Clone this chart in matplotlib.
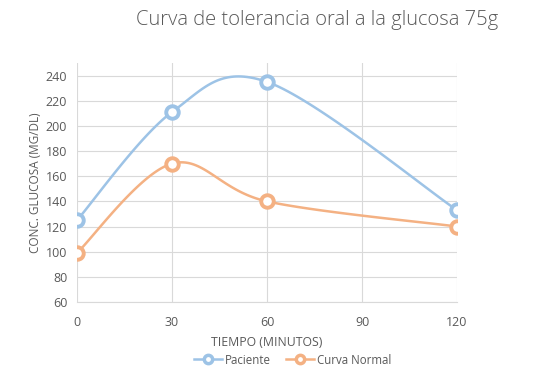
import numpy as np
import matplotlib
matplotlib.use('Agg')
import matplotlib.pyplot as plt

# data
tiempo = [0, 30, 60, 120]
paciente = [125, 211, 235, 133]
normal = [99, 170, 140, 120]

GRAY = '#595959'
GRID = '#d9d9d9'
BLUE = '#9dc3e6'
ORANGE = '#f4b183'

plt.rcParams['font.family'] = ['Open Sans', 'DejaVu Sans']


# excel-like smoothed line: cubic bezier between points
def smooth(x, y, n=40):
    x = np.array(x, float)
    y = np.array(y, float)
    xs, ys = [], []
    for i in range(len(x) - 1):
        i0 = max(i - 1, 0)
        i3 = min(i + 2, len(x) - 1)
        c1x = x[i] + (x[i + 1] - x[i0]) / 6
        c1y = y[i] + (y[i + 1] - y[i0]) / 6
        c2x = x[i + 1] - (x[i3] - x[i]) / 6
        c2y = y[i + 1] - (y[i3] - y[i]) / 6
        t = np.linspace(0, 1, n)
        bx = (1-t)**3*x[i] + 3*(1-t)**2*t*c1x + 3*(1-t)*t**2*c2x + t**3*x[i+1]
        by = (1-t)**3*y[i] + 3*(1-t)**2*t*c1y + 3*(1-t)*t**2*c2y + t**3*y[i+1]
        xs += list(bx)
        ys += list(by)
    return xs, ys


fig = plt.figure(figsize=(5.48, 3.72), dpi=100)
ax = fig.add_axes([77/548, 1 - 302/372, 380/548, 239/372])

for yy, col, lab in [(paciente, BLUE, 'Paciente'), (normal, ORANGE, 'Curva Normal')]:
    sx, sy = smooth(tiempo, yy)
    ax.plot(sx, sy, color=col, lw=1.8, zorder=3)
    ax.plot(tiempo, yy, 'o', color=col, mfc='white', mec=col, ms=9, mew=2.8, zorder=4)
    # legend proxy
    ax.plot([], [], '-o', color=col, mfc='white', mec=col, ms=6, mew=2.5, lw=1.8, label=lab)

ax.set_xlim(0, 120)
ax.set_ylim(60, 250)
ax.set_xticks([0, 30, 60, 90, 120])
ax.set_yticks(range(60, 241, 20))
ax.grid(True, color=GRID, lw=0.8)
ax.set_axisbelow(True)
for s in ['top', 'right', 'left']:
    ax.spines[s].set_visible(False)
ax.spines['bottom'].set_color(GRID)
ax.tick_params(length=0, colors=GRAY, labelsize=9, pad=7)
ax.tick_params(axis='x', pad=10)

ax.set_xlabel('TIEMPO (MINUTOS)', color=GRAY, fontsize=8.8, labelpad=5)
ax.set_ylabel('CONC. GLUCOSA (MG/DL)', color=GRAY, fontsize=8.5, labelpad=3)

fig.text(317/548, 1 - 20/372, 'Curva de tolerancia oral a la glucosa 75g',
         ha='center', va='center', color=GRAY, fontsize=14.5, fontweight='light')

leg = fig.legend(loc='center', bbox_to_anchor=(293/548, 1 - 360/372), ncol=2,
                 frameon=False, fontsize=8.3, handlelength=2.4, columnspacing=1.3,
                 handletextpad=0.3)
for t in leg.get_texts():
    t.set_color(GRAY)

fig.savefig('out.png', dpi=100)
